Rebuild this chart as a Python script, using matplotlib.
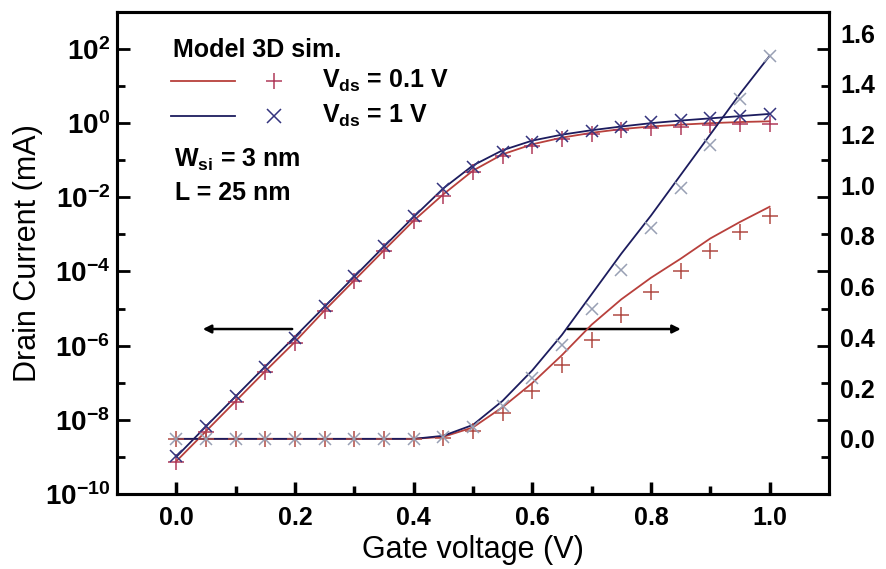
import numpy as np
import matplotlib
matplotlib.use('Agg')
import matplotlib.pyplot as plt
from matplotlib.ticker import FixedLocator, FuncFormatter

plt.rcParams['font.family'] = ['Liberation Sans', 'DejaVu Sans']
plt.rcParams['mathtext.fontset'] = 'custom'
plt.rcParams['mathtext.rm'] = 'Liberation Sans'
plt.rcParams['mathtext.bf'] = 'Liberation Sans:bold'

# gate voltage (V)
vg = [0.0, 0.05, 0.1, 0.15, 0.2, 0.25, 0.3, 0.35, 0.4, 0.45, 0.5,
      0.55, 0.6, 0.65, 0.7, 0.75, 0.8, 0.85, 0.9, 0.95, 1.0]

# log10 of drain current (mA), left axis
model_log_01 = [-9.12, -8.31, -7.50, -6.69, -5.90, -5.05, -4.24, -3.43, -2.63, -1.92, -1.28,
                -0.84, -0.57, -0.39, -0.26, -0.16, -0.09, -0.04, 0.00, 0.03, 0.05]
sim_log_01 = [-9.14, -8.33, -7.52, -6.71, -5.93, -5.07, -4.26, -3.45, -2.65, -1.96, -1.33,
              -0.88, -0.61, -0.43, -0.30, -0.19, -0.13, -0.09, -0.05, -0.03, -0.03]
model_log_1 = [-9.00, -8.18, -7.37, -6.56, -5.76, -4.95, -4.14, -3.33, -2.53, -1.76, -1.14,
               -0.73, -0.47, -0.31, -0.19, -0.09, 0.00, 0.07, 0.13, 0.19, 0.25]
sim_log_1 = [-8.98, -8.17, -7.36, -6.58, -5.80, -4.93, -4.12, -3.31, -2.50, -1.78, -1.19,
             -0.77, -0.50, -0.34, -0.21, -0.09, 0.02, 0.08, 0.13, 0.20, 0.26]

# linear drain current (mA), right axis
model_lin_01 = [0, 0, 0, 0, 0, 0, 0, 0, 0, 0.008, 0.045,
                0.125, 0.22, 0.33, 0.45, 0.55, 0.635, 0.71, 0.79, 0.855, 0.915]
sim_lin_01 = [0, 0, 0, 0, 0, 0, 0, 0, 0, 0.005, 0.03,
              0.10, 0.19, 0.29, 0.39, 0.49, 0.58, 0.66, 0.74, 0.815, 0.88]
model_lin_1 = [0, 0, 0, 0, 0, 0, 0, 0, 0, 0.012, 0.055,
               0.15, 0.27, 0.41, 0.57, 0.73, 0.88, 1.04, 1.20, 1.36, 1.51]
sim_lin_1 = [0, 0, 0, 0, 0, 0, 0, 0, 0, 0.008, 0.045,
             0.13, 0.24, 0.37, 0.51, 0.665, 0.83, 0.99, 1.16, 1.34, 1.51]

right_ticks = [0.0, 0.2, 0.4, 0.6, 0.8, 1.0, 1.2, 1.4, 1.6]
x_ticks = [0.0, 0.2, 0.4, 0.6, 0.8, 1.0]

red = '#b8403c'
blue = '#1c1c5e'
red_mk = '#b03a5a'
blue_mk = '#34347e'
blue_mk_lin = '#98a0b4'
red_mk_lin = '#b04a44'

fig = plt.figure(figsize=(8.86, 5.69), dpi=100)
ax = fig.add_axes([0.132, 0.132, 0.8036, 0.847])
ax2 = ax.twinx()

cur = lambda a: 10.0 ** np.array(a)

ax.plot(vg, cur(model_log_01), color=red, lw=1.3, zorder=3)
ax.plot(vg, cur(model_log_1), color=blue, lw=1.3, zorder=3)
ax.plot(vg, cur(sim_log_01), ls='none', marker='+', ms=11, mew=1.1, color=red_mk, zorder=4)
ax.plot(vg, cur(sim_log_1), ls='none', marker='x', ms=9, mew=1.1, color=blue_mk, zorder=4)

ax2.plot(vg, model_lin_01, color=red, lw=1.3)
ax2.plot(vg, model_lin_1, color=blue, lw=1.3)
ax2.plot(vg, sim_lin_01, ls='none', marker='+', ms=11, mew=1.1, color=red_mk_lin)
ax2.plot(vg, sim_lin_1, ls='none', marker='x', ms=9, mew=1.1, color=blue_mk_lin)

ax.set_yscale('log')
ax.set_xlim(-0.1, 1.1)
ax.set_ylim(1e-10, 1e3)
ax2.set_ylim(-0.217, 1.683)

# left log axis ticks (mirrored on right spine)
ax.yaxis.set_major_locator(FixedLocator([10.0 ** e for e in range(-10, 3, 2)]))
ax.yaxis.set_minor_locator(FixedLocator([10.0 ** e for e in range(-9, 3, 2)]))
ax.yaxis.set_major_formatter(FuncFormatter(
    lambda v, p: r'$\mathbf{10^{%d}}$' % int(round(np.log10(v)))))
ax.yaxis.set_minor_formatter(FuncFormatter(lambda v, p: ''))
ax.tick_params(axis='y', which='major', direction='in', length=9, width=2,
               right=True, labelsize=20, pad=5)
ax.tick_params(axis='y', which='minor', direction='in', length=6, width=2, right=True)

ax.set_xticks(x_ticks)
ax.set_xticks([0.1, 0.3, 0.5, 0.7, 0.9], minor=True)
ax.tick_params(axis='x', which='major', direction='in', length=9, width=2.5,
               labelsize=18, pad=9)
ax.tick_params(axis='x', which='minor', direction='in', length=6, width=2.5)
ax.set_xticklabels(['%.1f' % t for t in x_ticks], fontweight='bold')

ax2.set_yticks(right_ticks)
ax2.set_yticklabels(['%.1f' % t for t in right_ticks], fontweight='bold')
ax2.tick_params(axis='y', length=0, labelsize=18, pad=8)

for a in (ax, ax2):
    for s in a.spines.values():
        s.set_linewidth(2.2)

ax.set_xlabel('Gate voltage (V)', fontsize=22, labelpad=3)
ax.set_ylabel('Drain Current (mA)', fontsize=22)
ax.yaxis.set_label_coords(-0.104, 0.5)

# arrows
ax.annotate('', xy=(0.04, 2.8e-6), xytext=(0.2, 2.8e-6),
            arrowprops=dict(arrowstyle='-|>', lw=1.8, color='k', mutation_scale=12))
ax.annotate('', xy=(0.855, 2.8e-6), xytext=(0.655, 2.8e-6),
            arrowprops=dict(arrowstyle='-|>', lw=1.8, color='k', mutation_scale=12))

# legend drawn as text
tr = ax.transAxes
fs = 18
ax.text(0.079, 0.921, 'Model 3D sim.', transform=tr, fontsize=fs, fontweight='bold', va='center')
ax.plot([0.076, 0.166], [0.857, 0.857], transform=tr, color=red, lw=1.3)
ax.plot([0.076, 0.166], [0.784, 0.784], transform=tr, color=blue, lw=1.3)
ax.plot([0.2205], [0.857], transform=tr, marker='+', ms=12, mew=1.1, color=red_mk, ls='none')
ax.plot([0.2205], [0.784], transform=tr, marker='x', ms=10, mew=1.1, color=blue_mk, ls='none')
ax.text(0.288, 0.857, r'V$_{\mathbf{ds}}$ = 0.1 V', transform=tr, fontsize=fs,
        fontweight='bold', va='center')
ax.text(0.288, 0.784, r'V$_{\mathbf{ds}}$ = 1 V', transform=tr, fontsize=fs,
        fontweight='bold', va='center')
ax.text(0.080, 0.693, r'W$_{\mathbf{si}}$ = 3 nm', transform=tr, fontsize=fs,
        fontweight='bold', va='center')
ax.text(0.081, 0.624, 'L = 25 nm', transform=tr, fontsize=fs, fontweight='bold', va='center')

fig.savefig('out.png', dpi=100)
